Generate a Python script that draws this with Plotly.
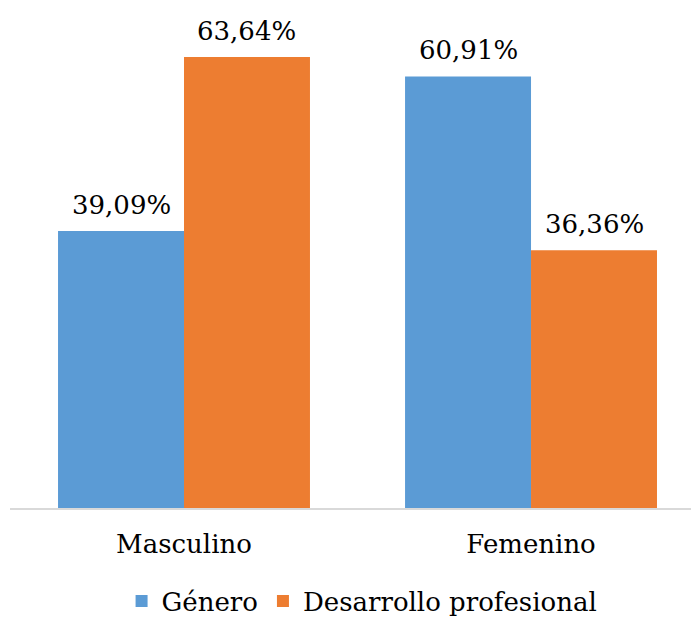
import plotly.graph_objects as go

categories = ["Masculino", "Femenino"]
genero = [39.09, 60.91]
desarrollo = [63.64, 36.36]
series_names = ["Género", "Desarrollo profesional"]
colors = ["#5B9BD5", "#ED7D31"]

def fmt(v):
    return f"{v:.2f}".replace(".", ",") + "%"

FONT = "DejaVu Serif"
FS = 26
BARGAP = 0.274

fig = go.Figure()
n = 2
for k, (name, vals, col) in enumerate(zip(series_names, [genero, desarrollo], colors)):
    fig.add_trace(go.Bar(
        x=categories, y=vals, name=name,
        marker=dict(color=col, line=dict(width=0)),
    ))
    w = (1 - BARGAP) / n
    for i, v in enumerate(vals):
        fig.add_annotation(x=i + (k - (n - 1) / 2) * w, y=v, xref="x", yref="y",
                           text=fmt(v), showarrow=False, yanchor="bottom", yshift=9,
                           font=dict(family=FONT, size=FS, color="#000000"))

fig.update_layout(
    width=691, height=620,
    margin=dict(l=10, r=0, t=12, b=112),
    paper_bgcolor="white", plot_bgcolor="white",
    barmode="group", bargap=BARGAP, bargroupgap=0,
    font=dict(family=FONT, size=FS, color="#000000"),
    showlegend=True,
    legend=dict(orientation="h", x=0.517, xanchor="center", yref="container", y=19/620,
                yanchor="middle", font=dict(family=FONT, size=FS)),
)
fig.update_xaxes(range=[-0.5014, 1.461], showline=True, linecolor="#D9D9D9", linewidth=1.5,
                 ticks="outside", ticklen=12, tickcolor="rgba(0,0,0,0)",
                 tickfont=dict(family=FONT, size=FS, color="#000000"), showgrid=False,
                 automargin=False)
fig.update_yaxes(range=[0, 70], visible=False, showgrid=False)

fig.write_html("out.html")
